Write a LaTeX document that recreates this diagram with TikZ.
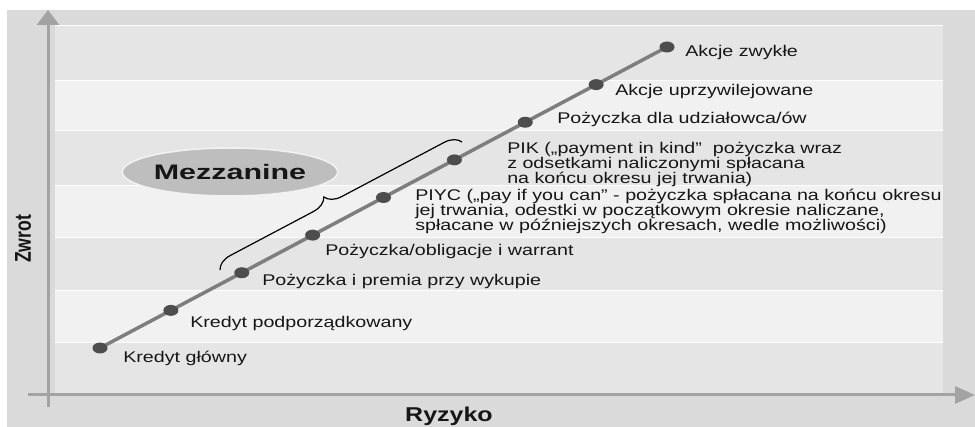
\documentclass[tikz,border=0pt]{standalone}
\usepackage{fontspec}
\setmainfont{Liberation Sans}
\usetikzlibrary{arrows.meta,shapes.geometric,decorations.pathreplacing,backgrounds}

\definecolor{panelgray}{HTML}{DADADA}
\definecolor{banddark}{HTML}{E5E5E5}
\definecolor{bandlight}{HTML}{F1F1F1}
\definecolor{axisgray}{HTML}{A3A3A3}
\definecolor{linegray}{HTML}{7E7E7E}
\definecolor{dotgray}{HTML}{4D4D4D}
\definecolor{mezzgray}{HTML}{BEBEBE}
\definecolor{inkgray}{HTML}{161616}

\newcommand\lblfont{\fontsize{15.5}{15}\selectfont\lineskiplimit=-20pt\relax}

\begin{document}
\begin{tikzpicture}[x=1pt, y=-1pt]
    \tikzstyle{every node}=[text=inkgray]
    \tikzstyle{riskdot}=[ellipse, fill=dotgray, minimum width=15pt, minimum height=11pt, inner sep=0pt]
    \tikzstyle{lbl}=[inner sep=0pt, xscale=1.27, align=left, font=\lblfont]
    \tikzstyle{axislbl}=[inner sep=0pt, font=\bfseries]
    \tikzstyle{axisline}=[draw=axisgray, line width=3pt]
    \tikzstyle{riskline}=[draw=linegray, line width=3.5pt]
    \tikzstyle{mezzbrace}=[decorate, decoration={brace, amplitude=16pt, aspect=0.46}, line width=1.2pt]
    \tikzstyle{mezz}=[ellipse, fill=mezzgray, draw=white!80!mezzgray, line width=1.5pt,
        minimum width=142pt, minimum height=48pt, inner sep=0pt, xscale=1.45,
        font=\fontsize{21}{21}\selectfont\bfseries]
    \useasboundingbox (0,0) rectangle (975,427);

    % instruments, from low to high risk
    \foreach \i in {1,...,9}
        \node[riskdot] (d\i) at ({100+70.875*(\i-1)}, {348-37.625*(\i-1)}) {};

    \coordinate (yfoot) at (48,407);
    \coordinate (ytip) at (48,10);
    \coordinate (xfoot) at (28,395);
    \coordinate (xtip) at (975,395);

    \begin{scope}[on background layer]
        \fill[panelgray] (7,10) rectangle (975,427);
        \foreach \top/\bot/\col in {25/80/banddark, 80/130/bandlight, 130/185/banddark,
            185/237/bandlight, 237/290/banddark, 290/342/bandlight, 342/393/banddark} {
            \fill[\col] (55,\top) rectangle (943,\bot);
            \draw[white, line width=0.8pt] (55,\top) -- (943,\top);
        }
        \draw[axisline, -{Triangle[length=15pt, width=22pt]}] (yfoot) -- (ytip);
        \draw[axisline, -{Triangle[length=20pt, width=17pt]}] (xfoot) -- (xtip);
        \draw[riskline] (d1.center) -- (d9.center);
    \end{scope}

    \node[lbl, anchor=base west] (l1) at (123,363) {Kredyt główny};
    \node[lbl, anchor=base west] (l2) at (190,328) {Kredyt podporządkowany};
    \node[lbl, anchor=base west] (l3) at (262,286) {Pożyczka i premia przy wykupie};
    \node[lbl, anchor=base west] (l4) at (325,256) {Pożyczka/obligacje i warrant};
    \node[lbl, anchor=west] (l5) at (415,211) {PIYC („pay if you can" - pożyczka spłacana na końcu okresu\\
        jej trwania, odestki w początkowym okresie naliczane,\\
        spłacane w późniejszych okresach, wedle możliwości)};
    \node[lbl, anchor=west] (l6) at (507,164) {PIK („payment in kind"\ \ pożyczka wraz\\
        z odsetkami naliczonymi spłacana\\
        na końcu okresu jej trwania)};
    \node[lbl, anchor=base west] (l7) at (557,124) {Pożyczka dla udziałowca/ów};
    \node[lbl, anchor=base west] (l8) at (615,96) {Akcje uprzywilejowane};
    \node[lbl, anchor=base west] (l9) at (685,57) {Akcje zwykłe};

    % mezzanine group
    \coordinate (bralo) at (220,270);
    \coordinate (brahi) at (462,142);
    \draw[mezzbrace] (bralo) -- (brahi);
    \node[mezz] (mezzanine) at (230,172) {Mezzanine};

    \node[axislbl, font=\fontsize{20}{20}\selectfont\bfseries, xscale=1.25] (ryzyko) at (449,416) {Ryzyko};
    \node[axislbl, font=\fontsize{17.6}{17.6}\selectfont\bfseries, rotate=90] (zwrot) at (23,239) {\scalebox{1}[1.3]{Zwrot}};
\end{tikzpicture}
\end{document}
